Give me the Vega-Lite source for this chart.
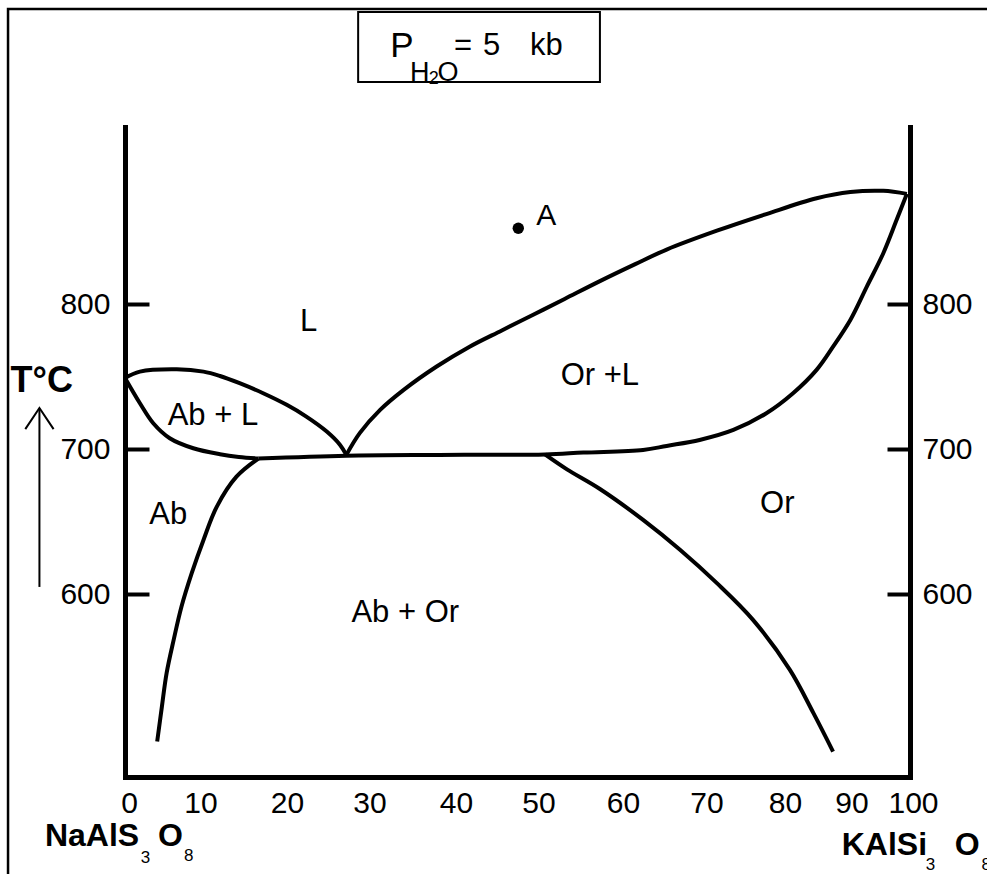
{
  "$schema": "https://vega.github.io/schema/vega-lite/v6.json",
  "width": 785,
  "height": 650,
  "autosize": {"type": "none"},
  "padding": {"left": 125, "top": 127, "right": 77, "bottom": 97},
  "background": "white",
  "config": {"view": {"stroke": null}, "font": "Liberation Sans"},
  "resolve": {"axis": {"y": "independent"}},
  "datasets": {
    "curves": [
      {"curve": "liq_ab", "i": 0, "x": 0, "T": 749},
      {"curve": "liq_ab", "i": 1, "x": 1.9, "T": 753.4},
      {"curve": "liq_ab", "i": 2, "x": 6.6, "T": 755},
      {"curve": "liq_ab", "i": 3, "x": 10, "T": 753.4},
      {"curve": "liq_ab", "i": 4, "x": 12.1, "T": 750.4},
      {"curve": "liq_ab", "i": 5, "x": 14.6, "T": 745.4},
      {"curve": "liq_ab", "i": 6, "x": 17.6, "T": 738.5},
      {"curve": "liq_ab", "i": 7, "x": 20.6, "T": 730.5},
      {"curve": "liq_ab", "i": 8, "x": 23.1, "T": 722.4},
      {"curve": "liq_ab", "i": 9, "x": 25.7, "T": 712.1},
      {"curve": "liq_ab", "i": 10, "x": 27.4, "T": 702.9},
      {"curve": "liq_ab", "i": 11, "x": 28.2, "T": 696},
      {"curve": "sol_ab", "i": 0, "x": 0, "T": 749},
      {"curve": "sol_ab", "i": 1, "x": 1.9, "T": 731.6},
      {"curve": "sol_ab", "i": 2, "x": 3.6, "T": 717.8},
      {"curve": "sol_ab", "i": 3, "x": 5.7, "T": 707.5},
      {"curve": "sol_ab", "i": 4, "x": 8.7, "T": 700.6},
      {"curve": "sol_ab", "i": 5, "x": 12.1, "T": 696.5},
      {"curve": "sol_ab", "i": 6, "x": 14.5, "T": 694.6},
      {"curve": "sol_ab", "i": 7, "x": 17, "T": 693.5},
      {"curve": "sol_or", "i": 0, "x": 17, "T": 693.5},
      {"curve": "sol_or", "i": 1, "x": 28.2, "T": 695.5},
      {"curve": "sol_or", "i": 2, "x": 40, "T": 696},
      {"curve": "sol_or", "i": 3, "x": 53.5, "T": 696.3},
      {"curve": "sol_or", "i": 4, "x": 58.4, "T": 697.6},
      {"curve": "sol_or", "i": 5, "x": 66, "T": 699.4},
      {"curve": "sol_or", "i": 6, "x": 69, "T": 702.2},
      {"curve": "sol_or", "i": 7, "x": 73.2, "T": 706.3},
      {"curve": "sol_or", "i": 8, "x": 77.5, "T": 713.2},
      {"curve": "sol_or", "i": 9, "x": 81.7, "T": 724.7},
      {"curve": "sol_or", "i": 10, "x": 85.1, "T": 738.5},
      {"curve": "sol_or", "i": 11, "x": 88.1, "T": 754.6},
      {"curve": "sol_or", "i": 12, "x": 90.2, "T": 770.6},
      {"curve": "sol_or", "i": 13, "x": 92.4, "T": 789},
      {"curve": "sol_or", "i": 14, "x": 94.5, "T": 812},
      {"curve": "sol_or", "i": 15, "x": 96.6, "T": 835},
      {"curve": "sol_or", "i": 16, "x": 98.3, "T": 858},
      {"curve": "sol_or", "i": 17, "x": 99.6, "T": 875.9},
      {"curve": "liq_or", "i": 0, "x": 28.2, "T": 696},
      {"curve": "liq_or", "i": 1, "x": 29.9, "T": 711},
      {"curve": "liq_or", "i": 2, "x": 32.5, "T": 727},
      {"curve": "liq_or", "i": 3, "x": 35.5, "T": 740.8},
      {"curve": "liq_or", "i": 4, "x": 39.7, "T": 756.9},
      {"curve": "liq_or", "i": 5, "x": 43.9, "T": 770.6},
      {"curve": "liq_or", "i": 6, "x": 48, "T": 781.8},
      {"curve": "liq_or", "i": 7, "x": 52, "T": 792.6},
      {"curve": "liq_or", "i": 8, "x": 56, "T": 803.5},
      {"curve": "liq_or", "i": 9, "x": 60.5, "T": 815.8},
      {"curve": "liq_or", "i": 10, "x": 65, "T": 827.5},
      {"curve": "liq_or", "i": 11, "x": 69, "T": 837.5},
      {"curve": "liq_or", "i": 12, "x": 75.4, "T": 850.5},
      {"curve": "liq_or", "i": 13, "x": 81.7, "T": 862},
      {"curve": "liq_or", "i": 14, "x": 88.1, "T": 872.9},
      {"curve": "liq_or", "i": 15, "x": 92.4, "T": 877.2},
      {"curve": "liq_or", "i": 16, "x": 96.6, "T": 878},
      {"curve": "liq_or", "i": 17, "x": 99.6, "T": 875.9},
      {"curve": "solv_ab", "i": 0, "x": 17, "T": 693.5},
      {"curve": "solv_ab", "i": 1, "x": 14.2, "T": 681},
      {"curve": "solv_ab", "i": 2, "x": 11.7, "T": 660.4},
      {"curve": "solv_ab", "i": 3, "x": 10, "T": 637.4},
      {"curve": "solv_ab", "i": 4, "x": 8.5, "T": 614.5},
      {"curve": "solv_ab", "i": 5, "x": 7.2, "T": 591.5},
      {"curve": "solv_ab", "i": 6, "x": 6.2, "T": 568.5},
      {"curve": "solv_ab", "i": 7, "x": 5.3, "T": 545.6},
      {"curve": "solv_ab", "i": 8, "x": 4.7, "T": 522.5},
      {"curve": "solv_ab", "i": 9, "x": 4.1, "T": 498.4},
      {"curve": "solv_or", "i": 0, "x": 53.5, "T": 696.3},
      {"curve": "solv_or", "i": 1, "x": 56.3, "T": 686},
      {"curve": "solv_or", "i": 2, "x": 60.5, "T": 672.5},
      {"curve": "solv_or", "i": 3, "x": 66, "T": 651.2},
      {"curve": "solv_or", "i": 4, "x": 70.7, "T": 630.6},
      {"curve": "solv_or", "i": 5, "x": 75.4, "T": 607.6},
      {"curve": "solv_or", "i": 6, "x": 80, "T": 582.3},
      {"curve": "solv_or", "i": 7, "x": 84.7, "T": 547.8},
      {"curve": "solv_or", "i": 8, "x": 87.7, "T": 518},
      {"curve": "solv_or", "i": 9, "x": 90.2, "T": 491.5}
    ],
    "regions": [
      {"label": "L", "x": 23.4, "T": 787.3},
      {"label": "Ab + L", "x": 11.2, "T": 723},
      {"label": "Or +L", "x": 60.5, "T": 750.6},
      {"label": "Ab", "x": 5.5, "T": 654.6},
      {"label": "Ab + Or", "x": 35.7, "T": 586.9},
      {"label": "Or", "x": 83.1, "T": 662.2}
    ],
    "pointA": [{"label": "A", "x": 50.1, "T": 852.2, "lx": 52.4, "lT": 861}],
    "titleBig": [{"t": "P", "x": 33.8, "T": 970.3}],
    "titleMid": [
      {"t": "=", "x": 41.9, "T": 971.7},
      {"t": "5", "x": 45.6, "T": 971.7},
      {"t": "kb", "x": 51.6, "T": 971.7}
    ],
    "titleSub": [
      {"t": "H", "x": 36.3, "T": 953.8},
      {"t": "O", "x": 39.8, "T": 953.8}
    ],
    "titleSub2": [{"t": "2", "x": 38.7, "T": 951.7}],
    "endNames": [
      {"t": "NaAlS", "x": -10.2, "T": 426.2},
      {"t": "O", "x": 4.2, "T": 426.2},
      {"t": "KAlSi", "x": 91.3, "T": 420.4},
      {"t": "O", "x": 105.7, "T": 420.4}
    ],
    "endSubs": [
      {"t": "3", "x": 2.0, "T": 414.5},
      {"t": "8", "x": 7.5, "T": 415.9},
      {"t": "3", "x": 102.0, "T": 410.1},
      {"t": "8", "x": 109.1, "T": 410.1}
    ],
    "tLabel": [{"t": "T°C", "x": -10.6, "T": 739.4}]
  },
  "layer": [
    {
      "data": {"values": [{}]},
      "mark": {"type": "rect", "fill": "white", "fillOpacity": 0, "stroke": "black", "strokeWidth": 2.5},
      "encoding": {
        "x": {"datum": -14.9, "type": "quantitative", "title": null},
        "x2": {"datum": 120},
        "y": {"datum": 1003.4, "type": "quantitative", "title": null, "axis": null},
        "y2": {"datum": 380}
      }
    },
    {
      "data": {"values": [{}]},
      "mark": {"type": "rect", "fill": "white", "fillOpacity": 0, "stroke": "black", "strokeWidth": 2},
      "encoding": {
        "x": {"datum": 29.7, "type": "quantitative", "title": null},
        "x2": {"datum": 60.5},
        "y": {"datum": 1001.3, "type": "quantitative", "title": null, "axis": null},
        "y2": {"datum": 953.1}
      }
    },
    {
      "data": {"name": "curves"},
      "mark": {"type": "line", "color": "black", "strokeWidth": 4, "interpolate": "catmull-rom"},
      "encoding": {
        "x": {
          "field": "x", "type": "quantitative", "title": null,
          "scale": {"domain": [0, 100], "nice": false, "zero": false},
          "axis": {
            "title": null,
            "values": [0, 10, 20, 30, 40, 50, 60, 70, 80, 90, 100],
            "ticks": false,
            "grid": false,
            "domainWidth": 5,
            "domainColor": "black",
            "domainCap": "square",
            "labelFont": "Liberation Sans",
            "labelFontSize": 30,
            "labelColor": "black",
            "labelPadding": 11,
            "labelFlush": false,
            "labelOverlap": false,
            "labelOffset": {
              "condition": [
                {"test": "datum.value === 0", "value": 4},
                {"test": "datum.value === 10", "value": -3},
                {"test": "datum.value === 20", "value": 5},
                {"test": "datum.value === 30", "value": 9},
                {"test": "datum.value === 40", "value": 17},
                {"test": "datum.value === 50", "value": 21},
                {"test": "datum.value === 60", "value": 27},
                {"test": "datum.value === 70", "value": 32},
                {"test": "datum.value === 80", "value": 32},
                {"test": "datum.value === 90", "value": 20},
                {"test": "datum.value === 100", "value": 3}
              ],
              "value": 0
            }
          }
        },
        "y": {
          "field": "T", "type": "quantitative", "title": null,
          "scale": {"domain": [474, 922], "nice": false, "zero": false},
          "axis": {
            "title": null,
            "orient": "left",
            "values": [600, 700, 800],
            "grid": false,
            "tickSize": -24,
            "tickWidth": 4,
            "tickColor": "black",
            "domainWidth": 5,
            "domainColor": "black",
            "domainCap": "square",
            "labelFont": "Liberation Sans",
            "labelFontSize": 30,
            "labelColor": "black",
            "labelPadding": 39
          }
        },
        "detail": {"field": "curve"},
        "order": {"field": "i", "type": "quantitative"}
      }
    },
    {
      "data": {"name": "pointA"},
      "mark": {"type": "point", "shape": "circle", "filled": true, "color": "black", "size": 130, "opacity": 1},
      "encoding": {
        "x": {"field": "x", "type": "quantitative", "title": null},
        "y": {
          "field": "T", "type": "quantitative", "title": null,
          "axis": {
            "title": null,
            "orient": "right",
            "values": [600, 700, 800],
            "grid": false,
            "tickSize": -23,
            "tickWidth": 4,
            "tickColor": "black",
            "domainWidth": 5,
            "domainColor": "black",
            "domainCap": "square",
            "labelFont": "Liberation Sans",
            "labelFontSize": 30,
            "labelColor": "black",
            "labelPadding": 35
          }
        }
      }
    },
    {
      "data": {"name": "pointA"},
      "mark": {"type": "text", "fontSize": 30, "align": "left", "baseline": "middle", "color": "black", "font": "Liberation Sans"},
      "encoding": {
        "x": {"field": "lx", "type": "quantitative", "title": null},
        "y": {"field": "lT", "type": "quantitative", "title": null, "axis": null},
        "text": {"field": "label"}
      }
    },
    {
      "data": {"name": "regions"},
      "mark": {"type": "text", "fontSize": 31, "align": "center", "baseline": "middle", "color": "black", "font": "Liberation Sans"},
      "encoding": {
        "x": {"field": "x", "type": "quantitative", "title": null},
        "y": {"field": "T", "type": "quantitative", "title": null, "axis": null},
        "text": {"field": "label"}
      }
    },
    {
      "data": {"name": "titleBig"},
      "mark": {"type": "text", "fontSize": 35, "align": "left", "baseline": "alphabetic", "color": "black", "font": "Liberation Sans"},
      "encoding": {
        "x": {"field": "x", "type": "quantitative", "title": null},
        "y": {"field": "T", "type": "quantitative", "title": null, "axis": null},
        "text": {"field": "t"}
      }
    },
    {
      "data": {"name": "titleMid"},
      "mark": {"type": "text", "fontSize": 31, "align": "left", "baseline": "alphabetic", "color": "black", "font": "Liberation Sans"},
      "encoding": {
        "x": {"field": "x", "type": "quantitative", "title": null},
        "y": {"field": "T", "type": "quantitative", "title": null, "axis": null},
        "text": {"field": "t"}
      }
    },
    {
      "data": {"name": "titleSub"},
      "mark": {"type": "text", "fontSize": 27, "align": "left", "baseline": "alphabetic", "color": "black", "font": "Liberation Sans Narrow, Liberation Sans"},
      "encoding": {
        "x": {"field": "x", "type": "quantitative", "title": null},
        "y": {"field": "T", "type": "quantitative", "title": null, "axis": null},
        "text": {"field": "t"}
      }
    },
    {
      "data": {"name": "titleSub2"},
      "mark": {"type": "text", "fontSize": 18, "align": "left", "baseline": "alphabetic", "color": "black", "font": "Liberation Sans Narrow, Liberation Sans"},
      "encoding": {
        "x": {"field": "x", "type": "quantitative", "title": null},
        "y": {"field": "T", "type": "quantitative", "title": null, "axis": null},
        "text": {"field": "t"}
      }
    },
    {
      "data": {"name": "endNames"},
      "mark": {"type": "text", "fontSize": 32, "fontWeight": "bold", "align": "left", "baseline": "alphabetic", "color": "black", "font": "Liberation Sans"},
      "encoding": {
        "x": {"field": "x", "type": "quantitative", "title": null},
        "y": {"field": "T", "type": "quantitative", "title": null, "axis": null},
        "text": {"field": "t"}
      }
    },
    {
      "data": {"name": "endSubs"},
      "mark": {"type": "text", "fontSize": 17, "align": "left", "baseline": "alphabetic", "color": "black", "font": "Liberation Sans"},
      "encoding": {
        "x": {"field": "x", "type": "quantitative", "title": null},
        "y": {"field": "T", "type": "quantitative", "title": null, "axis": null},
        "text": {"field": "t"}
      }
    },
    {
      "data": {"name": "tLabel"},
      "mark": {"type": "text", "fontSize": 36, "fontWeight": "bold", "align": "center", "baseline": "alphabetic", "color": "black", "font": "Liberation Sans"},
      "encoding": {
        "x": {"field": "x", "type": "quantitative", "title": null},
        "y": {"field": "T", "type": "quantitative", "title": null, "axis": null},
        "text": {"field": "t"}
      }
    },
    {
      "data": {"values": [{}]},
      "mark": {"type": "rule", "color": "black", "strokeWidth": 2},
      "encoding": {
        "x": {"datum": -10.9, "type": "quantitative", "title": null},
        "y": {"datum": 605, "type": "quantitative", "title": null, "axis": null},
        "y2": {"datum": 728}
      }
    },
    {
      "data": {"values": [{}]},
      "mark": {"type": "point", "shape": "M -1 1 L 0 -0.5 L 1 1", "filled": false, "stroke": "black", "strokeWidth": 2, "size": 800, "opacity": 1},
      "encoding": {
        "x": {"datum": -10.9, "type": "quantitative", "title": null},
        "y": {"datum": 723.5, "type": "quantitative", "title": null, "axis": null}
      }
    }
  ]
}
